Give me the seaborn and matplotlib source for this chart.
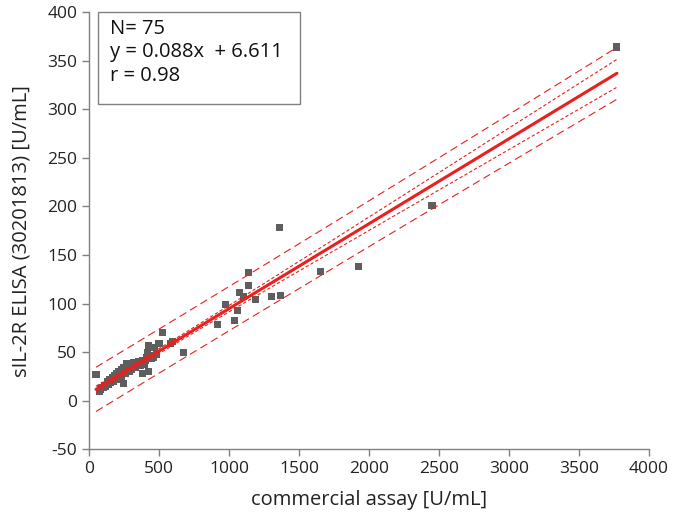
import numpy as np
import pandas as pd
import seaborn as sns
import matplotlib.pyplot as plt
from matplotlib.patches import Rectangle

# commercial assay [U/mL] vs sIL-2R ELISA [U/mL]
commercial = [
    50, 74, 85, 100, 110, 120, 130, 135, 140, 150, 155, 160, 170, 175, 180,
    190, 195, 200, 210, 215, 220, 230, 235, 240, 245, 250, 255, 260, 270, 275,
    280, 290, 300, 310, 320, 330, 340, 352, 365, 380, 400, 410, 440, 460, 480,
    381, 424,
    424, 466, 500, 419, 524, 583, 597, 678, 395, 445,
    916, 1038, 1059, 974, 1074, 1102, 1138, 1138, 1188, 1302, 1366, 1359,
    1652, 1924, 2450, 3771,
    290, 320, 230,
]
elisa = [
    27, 9, 12, 14, 16, 15, 18, 20, 17, 22, 19, 21, 24, 20, 26,
    23, 28, 25, 30, 22, 27, 32, 26, 29, 18, 34, 31, 28, 38, 33,
    36, 35, 32, 37, 39, 34, 38, 40, 36, 41, 41, 44, 46, 45, 48,
    28, 30,
    57, 55, 59, 50, 70, 59, 61, 50, 37, 43,
    78, 83, 93, 99, 111, 107, 132, 119, 104, 107, 108, 178,
    133, 138, 201, 364,
    30, 35, 24,
]

df = pd.DataFrame({'commercial': commercial, 'elisa': elisa})

# linear fit with confidence and prediction bands (95 %)
x = df['commercial'].to_numpy(float)
y = df['elisa'].to_numpy(float)
n = len(x)
slope, intercept = np.polyfit(x, y, 1)
resid = y - (slope * x + intercept)
s = np.sqrt(np.sum(resid ** 2) / (n - 2))
sxx = np.sum((x - x.mean()) ** 2)
t = 1.993
xs = np.linspace(x.min(), x.max(), 200)
yhat = slope * xs + intercept
conf = t * s * np.sqrt(1 / n + (xs - x.mean()) ** 2 / sxx)
pred = t * s * np.sqrt(1 + 1 / n + (xs - x.mean()) ** 2 / sxx)

sns.set_style('ticks')
plt.rcParams['font.family'] = ['Open Sans', 'DejaVu Sans']
plt.rcParams['axes.unicode_minus'] = False

fig = plt.figure(figsize=(6.82, 5.13), dpi=100)
ax = fig.add_axes([0.1305, 0.1242, 0.8211, 0.8524])

red = '#e8201e'
ax.plot(xs, yhat, color=red, lw=2.2, zorder=3)
for sign in (1, -1):
    ax.plot(xs, yhat + sign * conf, color=red, lw=0.8, ls=(0, (3, 2)), zorder=3)
    ax.plot(xs, yhat + sign * pred, color=red, lw=0.8, ls=(0, (7, 4)), zorder=3)

sns.scatterplot(data=df, x='commercial', y='elisa', marker='s', s=26,
                color='#5e5e5e', edgecolor='none', ax=ax, zorder=2)

ax.set_xlim(0, 4000)
ax.set_ylim(-50, 400)
ax.set_xticks(np.arange(0, 4001, 500))
ax.set_yticks(np.arange(-50, 401, 50))
ax.set_xlabel('commercial assay [U/mL]', fontsize=14.5, color='#222222', labelpad=9)
ax.set_ylabel('sIL-2R ELISA (30201813) [U/mL]', fontsize=14.5, color='#222222', labelpad=11)
ax.tick_params(labelsize=12.5, colors='#808080', labelcolor='#222222', length=5, width=1)
sns.despine(ax=ax)
for sp in ('left', 'bottom'):
    ax.spines[sp].set_color('#808080')
    ax.spines[sp].set_linewidth(1)

# stats box
fig.patches.append(Rectangle((98 / 682, 1 - 104 / 513), 202 / 682, 92 / 513,
                             transform=fig.transFigure, fc='white', ec='#808080', lw=1, zorder=5))
fig.text(110 / 682, 1 - 19 / 513, 'N= 75\ny = 0.088x  + 6.611\nr = 0.98',
         ha='left', va='top', fontsize=14.5, linespacing=1.22, color='#111111', zorder=6)

fig.savefig('out.png', dpi=100)
